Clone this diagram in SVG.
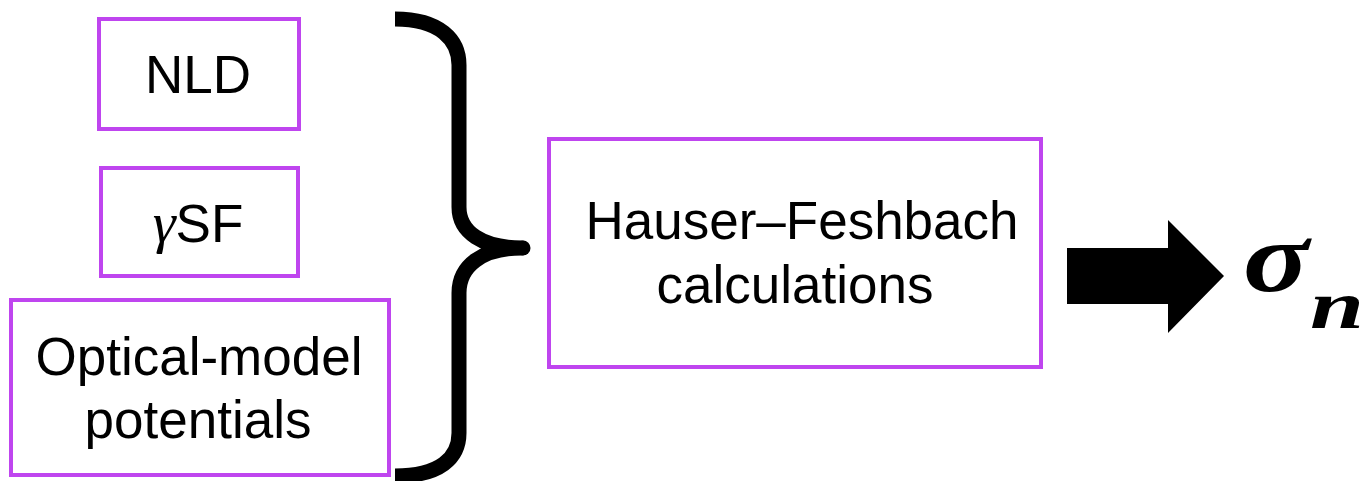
<svg xmlns="http://www.w3.org/2000/svg" width="1364" height="481" viewBox="0 0 1364 481">
<style>
.box{fill:#fff;stroke:#BF45EF;stroke-width:4}
.t{font-family:"Liberation Sans",Arial,sans-serif;font-size:53px;fill:#000;text-anchor:middle}
.m{font-family:"Liberation Serif","Times New Roman",serif;font-weight:bold;font-style:italic;fill:#000}
</style>
<rect width="1364" height="481" fill="#fff"/>
<g id="nld"><rect class="box" x="99" y="19" width="200" height="110"/><text class="t" x="198" y="93">NLD</text></g>
<g id="gsf"><rect class="box" x="101" y="168" width="197" height="108"/><text class="t" x="198" y="242"><tspan font-family="'Liberation Serif',serif" font-style="italic" font-size="58">γ</tspan>SF</text></g>
<g id="omp"><rect class="box" x="11" y="300" width="378" height="175"/><text class="t" x="199" y="375">Optical-model</text><text class="t" x="198" y="438">potentials</text></g>
<g id="hf"><rect class="box" x="549" y="139" width="492" height="228"/><text class="t" x="802" y="239">Hauser–Feshbach</text><text class="t" x="795" y="303">calculations</text></g>
<g id="connectors">
<path d="M395,19 C440,19 459,40 459,65 L459,207 C459,232 482,248 522,248 C482,248 459,266 459,293 L459,433 C459,458 440,476 395,476" fill="none" stroke="#000" stroke-width="15" stroke-linejoin="round"/>
<circle cx="523" cy="248" r="7.5" fill="#000"/>
<path d="M1067,248 L1168,248 L1168,220 L1224,276 L1168,333 L1168,304 L1067,304 Z" fill="#000"/>
</g>
<g id="sigma"><text class="m" x="1243" y="291" font-size="100" textLength="66" lengthAdjust="spacingAndGlyphs">σ</text><text class="m" x="1310" y="328" font-size="68" textLength="54" lengthAdjust="spacingAndGlyphs">n</text></g>
</svg>
